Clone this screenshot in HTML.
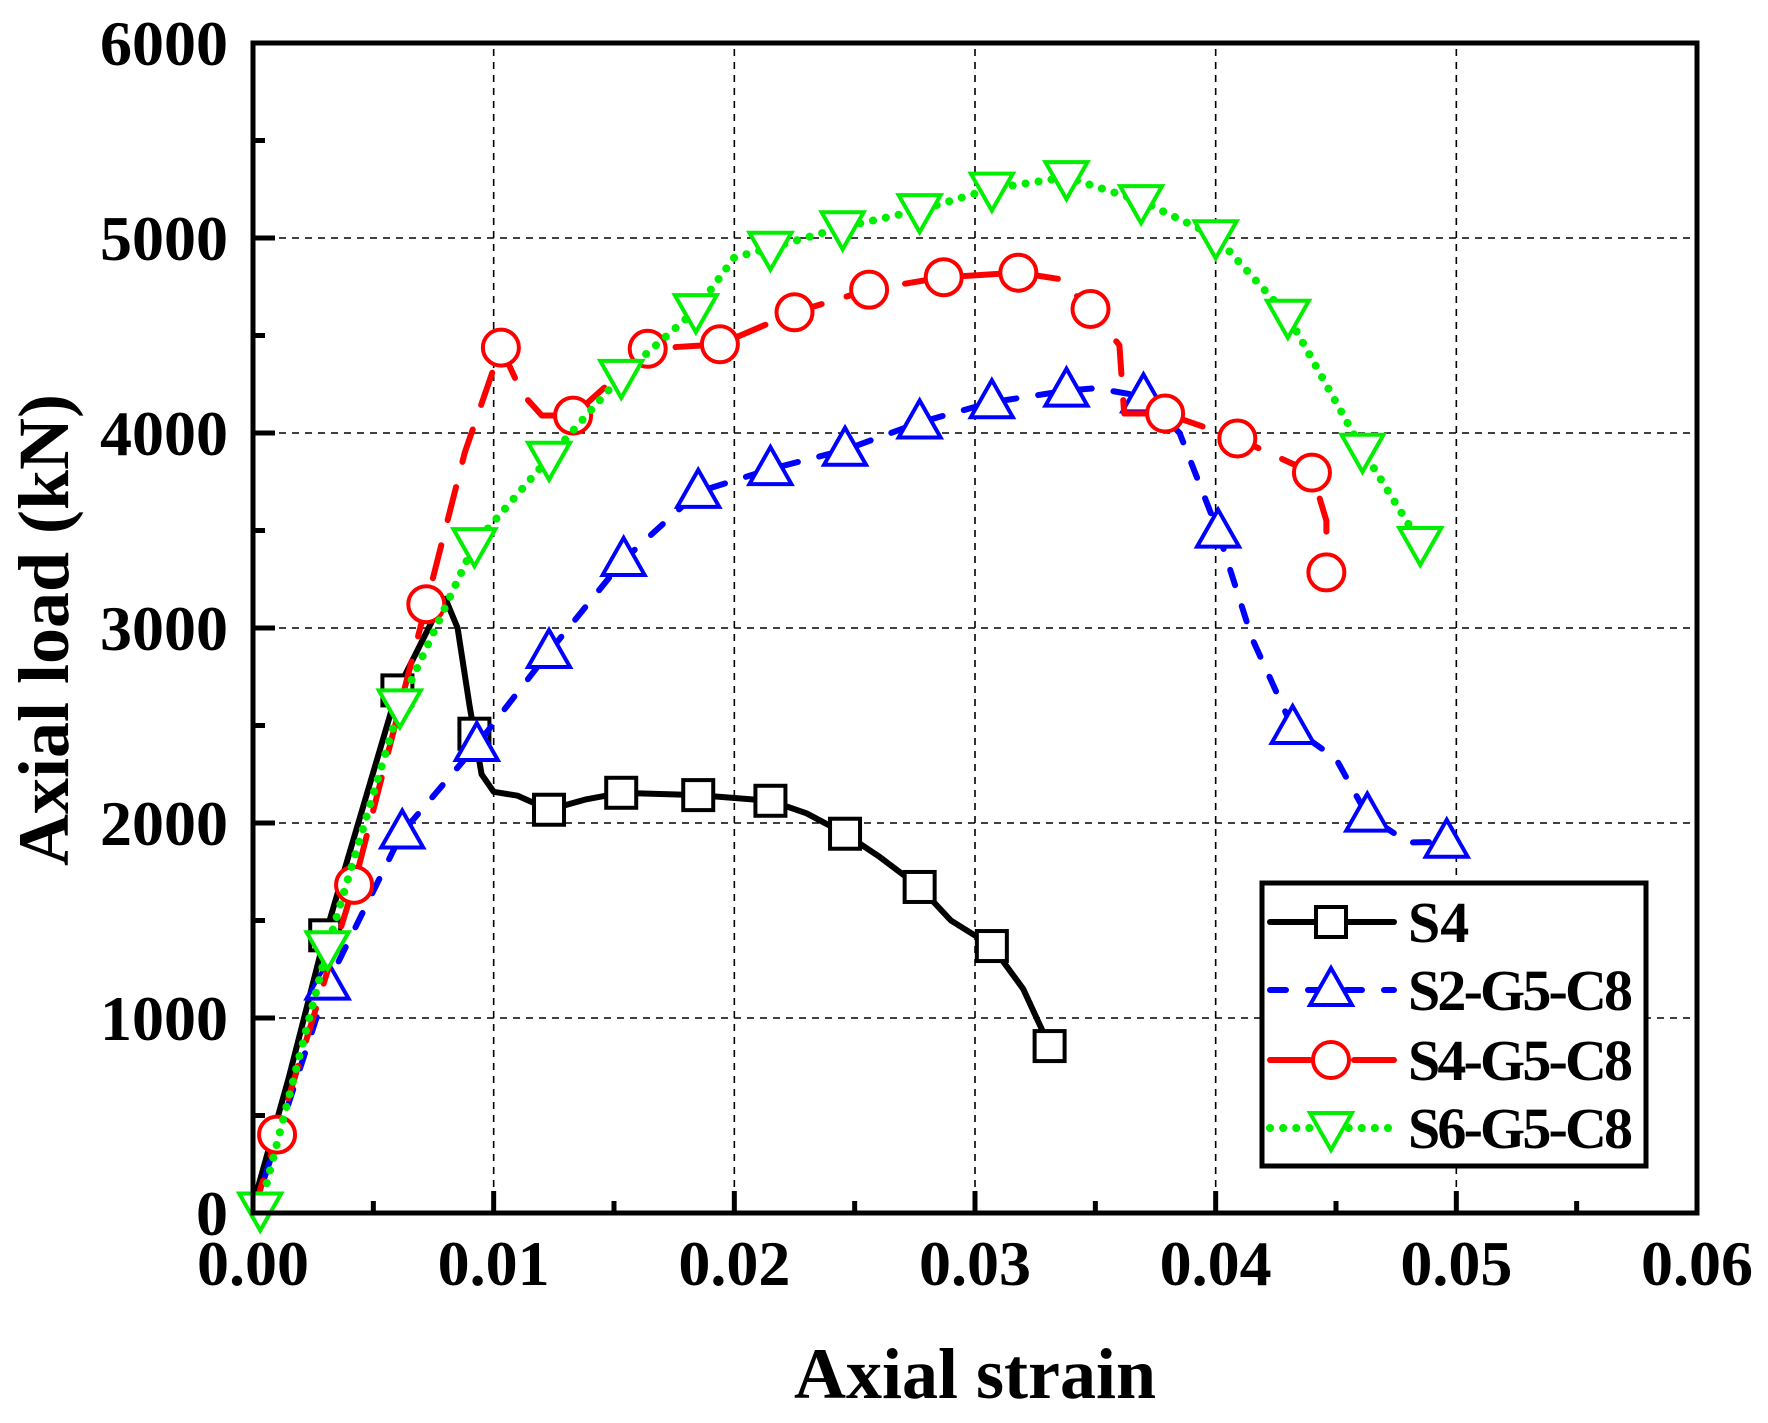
<!DOCTYPE html>
<html><head><meta charset="utf-8"><style>
html,body{margin:0;padding:0;background:#fff}
svg{display:block}
text{font-family:"Liberation Serif",serif;font-weight:bold;fill:#000}
</style></head><body>
<svg id="chart" width="1768" height="1423" viewBox="0 0 1768 1423" xmlns="http://www.w3.org/2000/svg">
<g id="grid"></g>
<g id="series"></g>
<g id="axes"></g>
<g id="legend"></g>
</svg>
<script>
const xTicks=[0,0.01,0.02,0.03,0.04,0.05,0.06];
const xTickLabels=["0.00","0.01","0.02","0.03","0.04","0.05","0.06"];
const yTicks=[0,1000,2000,3000,4000,5000,6000];
const yTickLabels=["0","1000","2000","3000","4000","5000","6000"];
const seriesNames=["S4","S2-G5-C8","S4-G5-C8","S6-G5-C8"];
// S4 curve
const s4LineX=[0,0.0015,0.003,0.006,0.0075,0.008,0.0085,0.009,0.0095,0.01,0.011,0.0123,0.0138,0.0153,0.0185,0.0215,0.023,0.0246,0.026,0.0277,0.029,0.0307,0.032,0.0331];
const s4LineY=[40,700,1424,2680,3050,3150,3000,2600,2250,2160,2140,2068,2120,2155,2143,2114,2050,1945,1830,1672,1500,1369,1150,856];
const s4MarkX=[0.003,0.006,0.0092,0.0123,0.0153,0.0185,0.0215,0.0246,0.0277,0.0307,0.0331];
const s4MarkY=[1424,2680,2458,2068,2155,2143,2114,1945,1672,1369,856];
// S2-G5-C8
const s2LineX=[0,0.0031,0.0062,0.0093,0.0123,0.0154,0.0185,0.0215,0.0246,0.0277,0.0307,0.0338,0.035,0.037,0.0385,0.0401,0.0415,0.0432,0.045,0.0463,0.048,0.0496];
const s2LineY=[0,1176,1951,2400,2877,3349,3698,3815,3914,4054,4158,4217,4230,4188,4000,3494,2950,2487,2330,2038,1900,1904];
const s2MarkX=[0.0031,0.0062,0.0093,0.0123,0.0154,0.0185,0.0215,0.0246,0.0277,0.0307,0.0338,0.037,0.0401,0.0432,0.0463,0.0496];
const s2MarkY=[1176,1951,2400,2877,3349,3698,3815,3914,4054,4158,4217,4188,3494,2487,2038,1904];
// S4-G5-C8
const s4gLineX=[0,0.001,0.0042,0.0072,0.0088,0.0103,0.0112,0.012,0.0133,0.0164,0.0194,0.0225,0.0256,0.0287,0.0318,0.0335,0.0348,0.036,0.0362,0.0379,0.0409,0.044,0.0446,0.0446];
const s4gLineY=[0,402,1683,3122,3900,4438,4200,4090,4089,4432,4455,4619,4735,4799,4822,4790,4636,4450,4100,4100,3972,3797,3550,3285];
const s4gMarkX=[0.001,0.0042,0.0072,0.0103,0.0133,0.0164,0.0194,0.0225,0.0256,0.0287,0.0318,0.0348,0.0379,0.0409,0.044,0.0446];
const s4gMarkY=[402,1683,3122,4438,4089,4432,4455,4619,4735,4799,4822,4636,4100,3972,3797,3285];
// S6-G5-C8
const s6LineX=[0.0003,0.0031,0.0061,0.0092,0.0123,0.0153,0.0184,0.02,0.0215,0.0245,0.0277,0.0307,0.0338,0.0369,0.04,0.043,0.0461,0.0485];
const s6LineY=[23,1363,2603,3430,3873,4293,4630,4900,4950,5055,5143,5253,5312,5189,5009,4601,3914,3436];
const s6MarkX=[0.0003,0.0031,0.0061,0.0092,0.0123,0.0153,0.0184,0.0215,0.0245,0.0277,0.0307,0.0338,0.0369,0.04,0.043,0.0461,0.0485];
const s6MarkY=[23,1363,2603,3430,3873,4293,4630,4950,5055,5143,5253,5312,5189,5009,4601,3914,3436];

const X0=253,X1=1697,Y0=1213,Y1=43;
function sx(v){return X0+(v-0)/(0.06)*(X1-X0);}
function sy(v){return Y0-(v/6000)*(Y0-Y1);}
const NS="http://www.w3.org/2000/svg";
function mk(tag,attrs,parent){const e=document.createElementNS(NS,tag);for(const k in attrs)e.setAttribute(k,attrs[k]);parent.appendChild(e);return e;}
const grid=document.getElementById('grid'),axes=document.getElementById('axes'),ser=document.getElementById('series'),leg=document.getElementById('legend');

xTicks.forEach((t,i)=>{
  if(i>0&&i<xTicks.length-1){const g=mk('line',{x1:sx(t),x2:sx(t),y1:Y0,y2:Y1,stroke:'#000','stroke-width':1.6,'stroke-dasharray':'7 6'},grid);
  
  }
});
yTicks.forEach((t,i)=>{
  if(i>0&&i<yTicks.length-1){const g=mk('line',{x1:X0,x2:X1,y1:sy(t),y2:sy(t),stroke:'#000','stroke-width':1.6,'stroke-dasharray':'7 6'},grid);
  
  }
});

function pathD(xs,ys){return xs.map((x,i)=>(i?'L':'M')+sx(x).toFixed(1)+' '+sy(ys[i]).toFixed(1)).join(' ');}
const styles=[
 {c:'#000',dash:'',cap:'round',m:'square'},
 {c:'#0000ff',dash:'16 22',cap:'round',m:'tri'},
 {c:'#ff0000',dash:'34 26',cap:'round',m:'circle'},
 {c:'#00ee00',dash:'0.1 13',cap:'round',m:'dtri'}];
const lineXs=[s4LineX,s2LineX,s4gLineX,s6LineX],lineYs=[s4LineY,s2LineY,s4gLineY,s6LineY];
const markXs=[s4MarkX,s2MarkX,s4gMarkX,s6MarkX],markYs=[s4MarkY,s2MarkY,s4gMarkY,s6MarkY];
function marker(type,cx,cy,color,parent){
  let e;
  if(type==='square')e=mk('rect',{x:cx-15,y:cy-15,width:30,height:30,fill:'#fff',stroke:color,'stroke-width':4},parent);
  else if(type==='circle')e=mk('circle',{cx:cx,cy:cy,r:18,fill:'#fff',stroke:color,'stroke-width':4},parent);
  else if(type==='tri')e=mk('polygon',{points:`${cx},${cy-22} ${cx-21},${cy+15} ${cx+21},${cy+15}`,fill:'#fff',stroke:color,'stroke-width':4},parent);
  else e=mk('polygon',{points:`${cx},${cy+22} ${cx-21},${cy-15} ${cx+21},${cy-15}`,fill:'#fff',stroke:color,'stroke-width':4},parent);
  return e;
}
styles.forEach((s,k)=>{
  const g=mk('g',{},ser);
  
  
  const p=mk('path',{d:pathD(lineXs[k],lineYs[k]),fill:'none',stroke:s.c,'stroke-width':k===3?8:6,'stroke-linecap':s.cap,'stroke-linejoin':'round'},g);
  if(s.dash)p.setAttribute('stroke-dasharray',s.dash);
  
  
  markXs[k].forEach((x,i)=>{
    const m=marker(s.m,sx(x),sy(markYs[k][i]),s.c,g);
    
    
  });
});

// frame
const fr=mk('rect',{x:X0,y:Y1,width:X1-X0,height:Y0-Y1,fill:'none',stroke:'#000','stroke-width':5},axes);


xTicks.forEach((t,i)=>{
  const x=sx(t);
  const tk=mk('line',{x1:x,x2:x,y1:Y0,y2:Y0-22,stroke:'#000','stroke-width':5},axes);
  
  
  if(i<xTicks.length-1){const mt=mk('line',{x1:sx(t+0.005),x2:sx(t+0.005),y1:Y0,y2:Y0-12,stroke:'#000','stroke-width':5},axes);
  
  }
  const tx=mk('text',{x:x,y:1285,'text-anchor':'middle','font-size':64},axes);
  tx.textContent=xTickLabels[i];
  
  
});
yTicks.forEach((t,i)=>{
  const y=sy(t);
  const tk=mk('line',{x1:X0,x2:X0+22,y1:y,y2:y,stroke:'#000','stroke-width':5},axes);
  
  
  if(i<yTicks.length-1){const mt=mk('line',{x1:X0,x2:X0+12,y1:sy(t+500),y2:sy(t+500),stroke:'#000','stroke-width':5},axes);
  
  }
  const tx=mk('text',{x:228,y:y+22,'text-anchor':'end','font-size':64},axes);
  tx.textContent=yTickLabels[i];
  
  
});
const xt=mk('text',{x:975,y:1398,'text-anchor':'middle','font-size':72},axes);
xt.textContent='Axial strain';


const yt=mk('text',{x:0,y:0,'text-anchor':'middle','font-size':72,transform:'translate(68,630) rotate(-90)'},axes);
yt.textContent='Axial load (kN)';



// legend
const lb=mk('rect',{x:1262,y:883,width:384,height:283,fill:'#fff',stroke:'#000','stroke-width':5},leg);


const legY=[922,990,1060,1128];
styles.forEach((s,k)=>{
  const g=mk('g',{},leg);
  
  
  const l=mk('line',{x1:1270,x2:1394,y1:legY[k],y2:legY[k],stroke:s.c,'stroke-width':k===3?8:6,'stroke-linecap':'round'},g);
  if(s.dash)l.setAttribute('stroke-dasharray',k===1?'16 22':(k===2?'40 44':s.dash));
  marker(s.m,1331,legY[k],s.c,g);
  const t=mk('text',{x:1408,y:legY[k]+20,'font-size':58},g);
  t.textContent=seriesNames[k];
  if(k>0)t.setAttribute('textLength','225');
});
</script>
</body></html>
